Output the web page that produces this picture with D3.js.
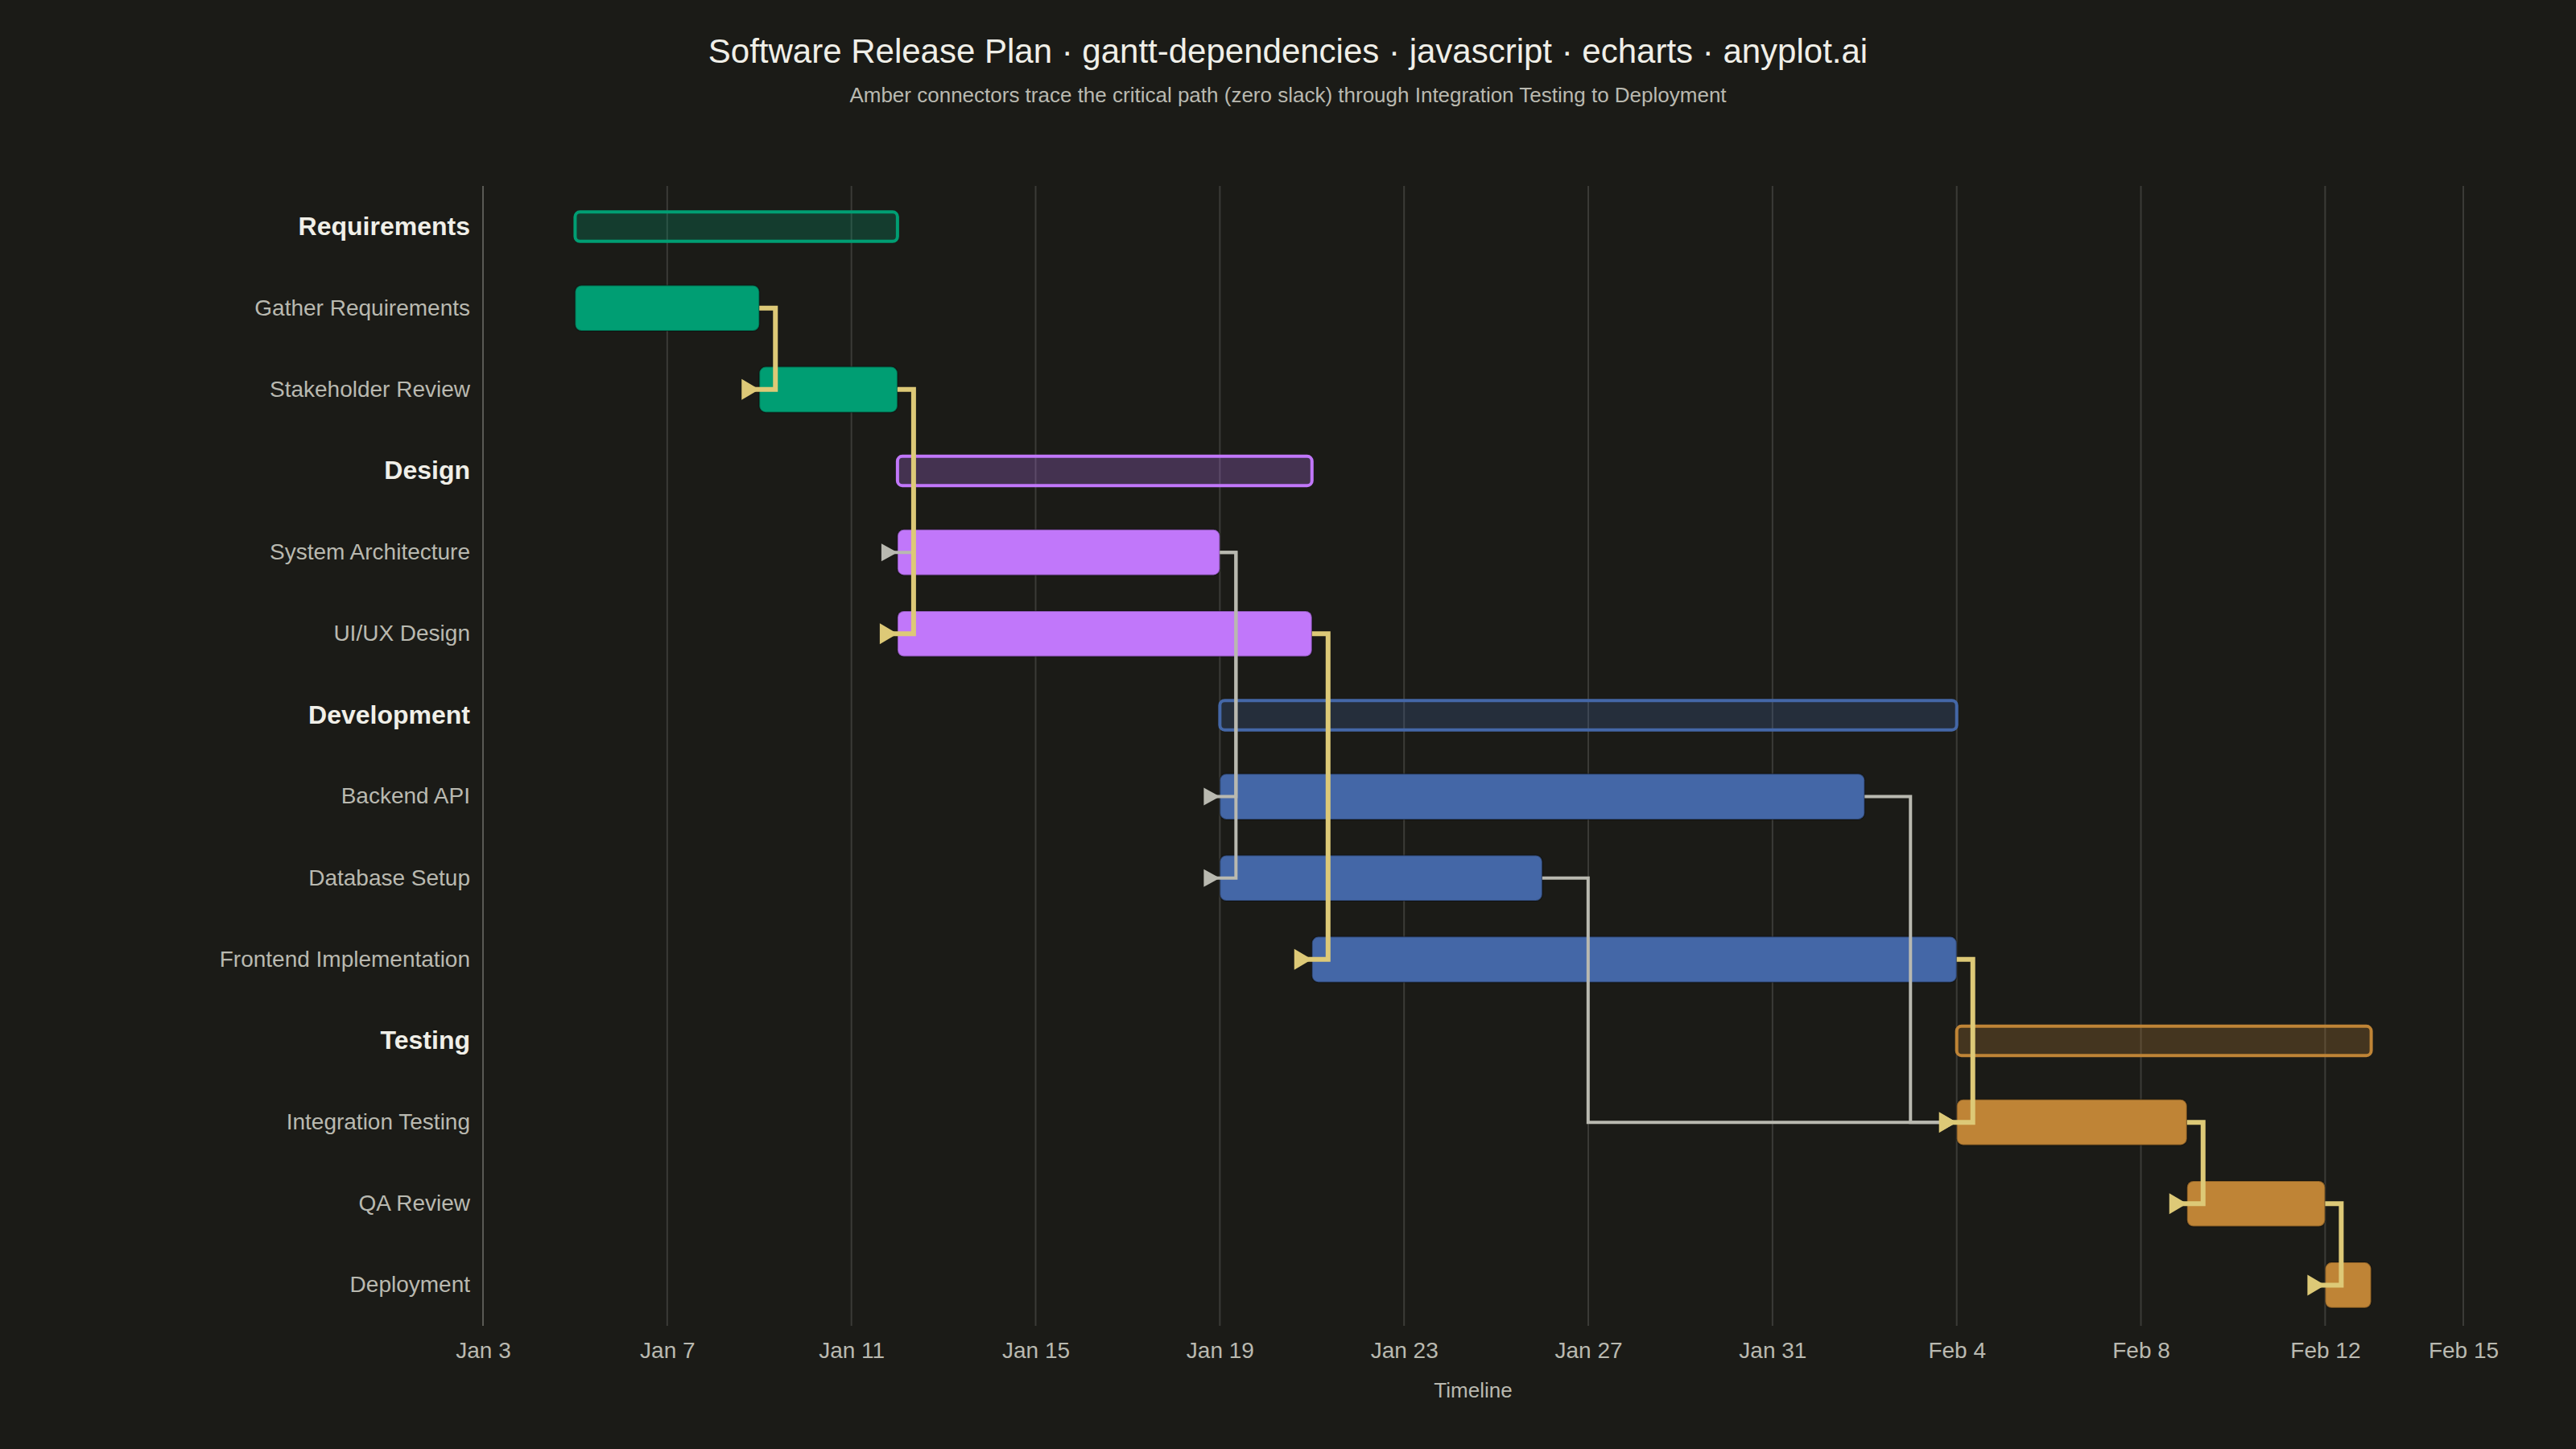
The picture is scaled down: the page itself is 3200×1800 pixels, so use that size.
<!DOCTYPE html>
<html>
<head>
<meta charset="utf-8">
<script src="https://cdn.jsdelivr.net/npm/d3@7"></script>
<style>
  html, body { margin: 0; padding: 0; background: #1b1b17; }
  text { font-family: "Liberation Sans", Arial, sans-serif; }
</style>
</head>
<body>
<div class="canvas"></div>
<script>
// data
const groupNames = ["Requirements", "Design", "Development", "Testing"];
const groupColors = ["#009E73", "#C177FA", "#4467A7", "#BF8436"];

const taskNames = [
  "Gather Requirements", "Stakeholder Review",
  "System Architecture", "UI/UX Design",
  "Backend API", "Database Setup", "Frontend Implementation",
  "Integration Testing", "QA Review", "Deployment",
];
const taskGroups = [0, 0, 1, 1, 2, 2, 2, 3, 3, 3];
const taskStarts = [
  "2025-01-05", "2025-01-09",
  "2025-01-12", "2025-01-12",
  "2025-01-19", "2025-01-19", "2025-01-21",
  "2025-02-04", "2025-02-09", "2025-02-12",
];
const taskEnds = [
  "2025-01-09", "2025-01-12",
  "2025-01-19", "2025-01-21",
  "2025-02-02", "2025-01-26", "2025-02-04",
  "2025-02-09", "2025-02-12", "2025-02-13",
];

// dependencies: from -> to, critical flag
const depFrom = ["Gather Requirements", "Stakeholder Review", "Stakeholder Review", "System Architecture", "System Architecture", "UI/UX Design", "Backend API", "Database Setup", "Frontend Implementation", "Integration Testing", "QA Review"];
const depTo = ["Stakeholder Review", "System Architecture", "UI/UX Design", "Backend API", "Database Setup", "Frontend Implementation", "Integration Testing", "Integration Testing", "Integration Testing", "QA Review", "Deployment"];
const depCritical = [true, false, true, false, false, true, false, false, true, true, true];

const axisStart = "2025-01-03";
const axisEnd = "2025-02-15";
const tickDates = ["2025-01-03", "2025-01-07", "2025-01-11", "2025-01-15", "2025-01-19", "2025-01-23", "2025-01-27", "2025-01-31", "2025-02-04", "2025-02-08", "2025-02-12", "2025-02-15"];

// dimensions
const w = 3200;
const h = 1800;
const margin = { top: 231, right: 140, bottom: 153, left: 600 };
const graphWidth = w - margin.left - margin.right;
const graphHeight = h - margin.top - margin.bottom;

const bg = "#1b1b17";
const amber = "#DDC977";
const grey = "#B9B9B0";

const parse = d3.utcParse("%Y-%m-%d");

// rows: group header followed by its tasks
const tasks = taskNames.map((name, i) => ({
  name,
  group: taskGroups[i],
  start: parse(taskStarts[i]),
  end: parse(taskEnds[i]),
}));
const rows = [];
groupNames.forEach((g, gi) => {
  const kids = tasks.filter((t) => t.group === gi);
  rows.push({ name: g, type: "group", group: gi, start: d3.min(kids, (d) => d.start), end: d3.max(kids, (d) => d.end) });
  kids.forEach((t) => rows.push({ ...t, type: "task" }));
});

const svg = d3.select(".canvas").append("svg").attr("width", w).attr("height", h);
svg.append("rect").attr("width", w).attr("height", h).attr("fill", bg);

// title + subtitle
svg.append("text")
  .attr("x", w / 2).attr("y", 78)
  .attr("text-anchor", "middle")
  .attr("font-size", 42)
  .attr("fill", "#F0EFE8")
  .text("Software Release Plan · gantt-dependencies · javascript · echarts · anyplot.ai");

svg.append("text")
  .attr("x", w / 2).attr("y", 127)
  .attr("text-anchor", "middle")
  .attr("font-size", 26)
  .attr("fill", "#B9B9B0")
  .text("Amber connectors trace the critical path (zero slack) through Integration Testing to Deployment");

const graph = svg.append("g").attr("transform", `translate(${margin.left}, ${margin.top})`);

const x = d3.scaleUtc().domain([parse(axisStart), parse(axisEnd)]).range([0, graphWidth]);
const y = d3.scaleBand().domain(rows.map((d) => d.name)).range([0, graphHeight]).padding(0);

// gridlines
const ticks = tickDates.map(parse);
graph.append("g")
  .selectAll("line")
  .data(ticks.slice(1))
  .enter()
  .append("line")
  .attr("x1", (d) => x(d)).attr("x2", (d) => x(d))
  .attr("y1", 0).attr("y2", graphHeight)
  .attr("stroke", "#3b3b37").attr("stroke-width", 2);

// left axis line
graph.append("line")
  .attr("x1", 0).attr("x2", 0).attr("y1", 0).attr("y2", graphHeight)
  .attr("stroke", "#5a5a54").attr("stroke-width", 2);

// x axis
const xAxis = graph.append("g")
  .attr("transform", `translate(0, ${graphHeight})`)
  .call(d3.axisBottom(x).tickValues(ticks).tickFormat(d3.utcFormat("%b %-d")).tickSize(0).tickPadding(20));
xAxis.select(".domain").remove();
xAxis.selectAll("text").attr("font-size", 28).attr("fill", "#B9B9B0")
  .attr("font-family", "'Liberation Sans', Arial, sans-serif");

graph.append("text")
  .attr("x", graphWidth / 2).attr("y", graphHeight + 89)
  .attr("text-anchor", "middle")
  .attr("font-size", 26)
  .attr("fill", "#B9B9B0")
  .text("Timeline");

// y labels
graph.append("g")
  .selectAll("text")
  .data(rows)
  .enter()
  .append("text")
  .attr("x", -16)
  .attr("y", (d) => y(d.name) + y.bandwidth() / 2 - 1)
  .attr("dy", "0.35em")
  .attr("text-anchor", "end")
  .attr("font-size", (d) => (d.type === "group" ? 32 : 28))
  .attr("font-weight", (d) => (d.type === "group" ? "bold" : "normal"))
  .attr("fill", (d) => (d.type === "group" ? "#F0EFE8" : "#B9B9B0"))
  .text((d) => d.name);

// bars
const taskH = y.bandwidth() * 0.56;
const groupH = y.bandwidth() * 0.36;

graph.append("g")
  .selectAll("rect")
  .data(rows.filter((d) => d.type === "group"))
  .enter()
  .append("rect")
  .attr("x", (d) => x(d.start))
  .attr("y", (d) => y(d.name) + (y.bandwidth() - groupH) / 2)
  .attr("width", (d) => x(d.end) - x(d.start))
  .attr("height", groupH)
  .attr("rx", 6)
  .attr("fill", (d) => groupColors[d.group])
  .attr("fill-opacity", 0.25)
  .attr("stroke", (d) => groupColors[d.group])
  .attr("stroke-width", 4);

graph.append("g")
  .selectAll("rect")
  .data(rows.filter((d) => d.type === "task"))
  .enter()
  .append("rect")
  .attr("x", (d) => x(d.start))
  .attr("y", (d) => y(d.name) + (y.bandwidth() - taskH) / 2)
  .attr("width", (d) => x(d.end) - x(d.start))
  .attr("height", taskH)
  .attr("rx", 8)
  .attr("fill", (d) => groupColors[d.group])
  .attr("stroke", "rgba(0,0,0,0.3)")
  .attr("stroke-width", 2);

// connectors
const byName = {};
tasks.forEach((t) => (byName[t.name] = t));
const deps = depFrom.map((f, i) => ({ from: byName[f], to: byName[depTo[i]], critical: depCritical[i] }));

function connector(d) {
  const x0 = x(d.from.end);
  const y0 = y(d.from.name) + y.bandwidth() / 2;
  const x1 = x(d.to.start);
  const y1 = y(d.to.name) + y.bandwidth() / 2;
  const gap = x1 - x0;
  const elbow = x0 + (gap > 0 ? Math.min(gap / 2, 57) : 20);
  const arrowLen = d.critical ? 22 : 20;
  return d3.line()([[x0, y0], [elbow, y0], [elbow, y1], [x1 - arrowLen + 2, y1]]);
}

function arrow(d) {
  const x1 = x(d.to.start);
  const y1 = y(d.to.name) + y.bandwidth() / 2;
  const len = d.critical ? 22 : 20;
  const half = d.critical ? 13 : 11;
  return `M${x1},${y1}L${x1 - len},${y1 - half}L${x1 - len},${y1 + half}Z`;
}

// grey links first so the critical path sits on top
const ordered = deps.filter((d) => !d.critical).concat(deps.filter((d) => d.critical));

const links = graph.append("g")
  .selectAll("g")
  .data(ordered)
  .enter()
  .append("g");

links.append("path")
  .attr("d", connector)
  .attr("fill", "none")
  .attr("stroke", (d) => (d.critical ? amber : grey))
  .attr("stroke-width", (d) => (d.critical ? 6 : 4))
  .attr("stroke-linejoin", "miter");

links.append("path")
  .attr("d", arrow)
  .attr("fill", (d) => (d.critical ? amber : grey));
</script>
</body>
</html>
